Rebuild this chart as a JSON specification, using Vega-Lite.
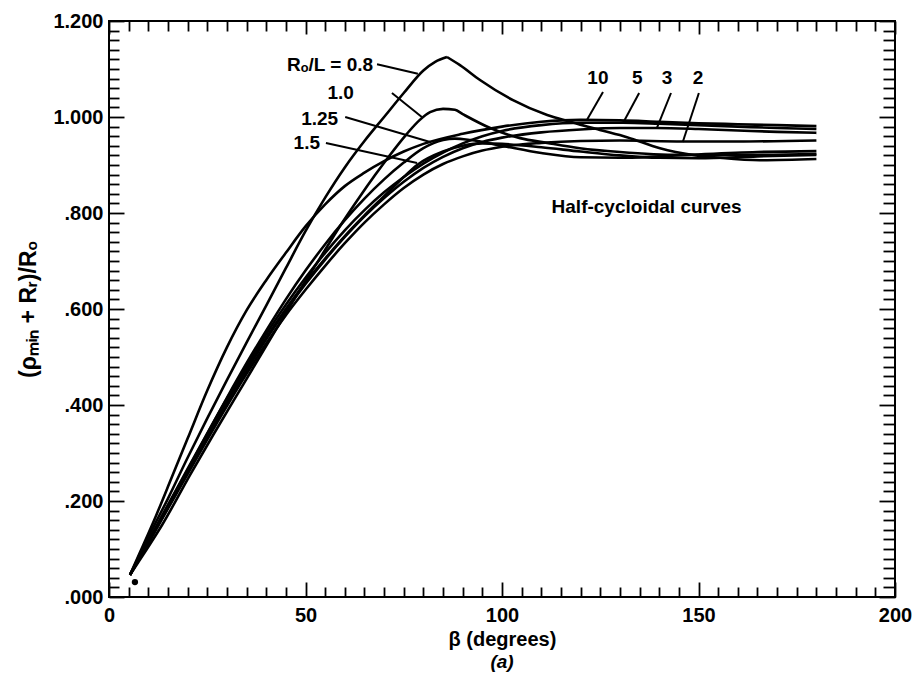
{
  "$schema": "https://vega.github.io/schema/vega-lite/v6.json",
  "width": 786,
  "height": 576,
  "autosize": {"type": "none"},
  "padding": {"left": 109, "top": 21, "right": 21, "bottom": 78},
  "background": "white",
  "config": {"view": {"stroke": "black", "strokeWidth": 2}, "font": "Liberation Sans"},
  "title": {"text": "(a)", "orient": "bottom", "fontStyle": "italic", "fontSize": 19, "font": "Liberation Sans", "fontWeight": "bold", "offset": 4, "color": "black"},
  "datasets": {
    "curves": [
      {"c": "10", "x": 5.34, "y": 0.046}, {"c": "10", "x": 8, "y": 0.095}, {"c": "10", "x": 12, "y": 0.17}, {"c": "10", "x": 16, "y": 0.25}, {"c": "10", "x": 20, "y": 0.33}, {"c": "10", "x": 25, "y": 0.43}, {"c": "10", "x": 30, "y": 0.52}, {"c": "10", "x": 35, "y": 0.597}, {"c": "10", "x": 40, "y": 0.66}, {"c": "10", "x": 45, "y": 0.717}, {"c": "10", "x": 50, "y": 0.772}, {"c": "10", "x": 55, "y": 0.818}, {"c": "10", "x": 60, "y": 0.856}, {"c": "10", "x": 65, "y": 0.884}, {"c": "10", "x": 70, "y": 0.908}, {"c": "10", "x": 75, "y": 0.928}, {"c": "10", "x": 80, "y": 0.944}, {"c": "10", "x": 90, "y": 0.965}, {"c": "10", "x": 100, "y": 0.98}, {"c": "10", "x": 110, "y": 0.99}, {"c": "10", "x": 120, "y": 0.994}, {"c": "10", "x": 130, "y": 0.993}, {"c": "10", "x": 140, "y": 0.99}, {"c": "10", "x": 150, "y": 0.987}, {"c": "10", "x": 160, "y": 0.985}, {"c": "10", "x": 170, "y": 0.983}, {"c": "10", "x": 180, "y": 0.981},
      {"c": "0.8L", "x": 5.34, "y": 0.046}, {"c": "0.8L", "x": 10, "y": 0.125}, {"c": "0.8L", "x": 15, "y": 0.205}, {"c": "0.8L", "x": 20, "y": 0.29}, {"c": "0.8L", "x": 25, "y": 0.372}, {"c": "0.8L", "x": 30, "y": 0.452}, {"c": "0.8L", "x": 35, "y": 0.53}, {"c": "0.8L", "x": 40, "y": 0.607}, {"c": "0.8L", "x": 45, "y": 0.685}, {"c": "0.8L", "x": 50, "y": 0.762}, {"c": "0.8L", "x": 55, "y": 0.832}, {"c": "0.8L", "x": 60, "y": 0.895}, {"c": "0.8L", "x": 65, "y": 0.95}, {"c": "0.8L", "x": 70, "y": 1.0}, {"c": "0.8L", "x": 75, "y": 1.05}, {"c": "0.8L", "x": 80, "y": 1.097}, {"c": "0.8L", "x": 83, "y": 1.115}, {"c": "0.8L", "x": 86, "y": 1.125},
      {"c": "0.8R", "x": 86, "y": 1.125}, {"c": "0.8R", "x": 89.3, "y": 1.108}, {"c": "0.8R", "x": 94.4, "y": 1.077}, {"c": "0.8R", "x": 102.8, "y": 1.035}, {"c": "0.8R", "x": 111.5, "y": 1.004}, {"c": "0.8R", "x": 117.3, "y": 0.99}, {"c": "0.8R", "x": 124.9, "y": 0.973}, {"c": "0.8R", "x": 131.8, "y": 0.958}, {"c": "0.8R", "x": 140.2, "y": 0.935}, {"c": "0.8R", "x": 148.6, "y": 0.921}, {"c": "0.8R", "x": 155.5, "y": 0.915}, {"c": "0.8R", "x": 165.6, "y": 0.91}, {"c": "0.8R", "x": 180, "y": 0.9125},
      {"c": "1.0", "x": 5.34, "y": 0.046}, {"c": "1.0", "x": 8.65, "y": 0.0875}, {"c": "1.0", "x": 13.5, "y": 0.15}, {"c": "1.0", "x": 20.6, "y": 0.254}, {"c": "1.0", "x": 26.5, "y": 0.3375}, {"c": "1.0", "x": 34.1, "y": 0.442}, {"c": "1.0", "x": 42.7, "y": 0.56}, {"c": "1.0", "x": 48.6, "y": 0.64}, {"c": "1.0", "x": 53.7, "y": 0.706}, {"c": "1.0", "x": 58.8, "y": 0.773}, {"c": "1.0", "x": 63.9, "y": 0.835}, {"c": "1.0", "x": 67.7, "y": 0.879}, {"c": "1.0", "x": 71.5, "y": 0.921}, {"c": "1.0", "x": 75.8, "y": 0.965}, {"c": "1.0", "x": 79.1, "y": 0.994}, {"c": "1.0", "x": 81.7, "y": 1.01}, {"c": "1.0", "x": 85, "y": 1.017}, {"c": "1.0", "x": 88, "y": 1.015}, {"c": "1.0", "x": 90, "y": 1.006}, {"c": "1.0", "x": 97, "y": 0.977}, {"c": "1.0", "x": 104.6, "y": 0.956}, {"c": "1.0", "x": 111.5, "y": 0.946}, {"c": "1.0", "x": 119.8, "y": 0.935}, {"c": "1.0", "x": 130, "y": 0.927}, {"c": "1.0", "x": 145.3, "y": 0.921}, {"c": "1.0", "x": 163, "y": 0.921}, {"c": "1.0", "x": 180, "y": 0.923},
      {"c": "1.25", "x": 5.34, "y": 0.046}, {"c": "1.25", "x": 10, "y": 0.115}, {"c": "1.25", "x": 15, "y": 0.19}, {"c": "1.25", "x": 20, "y": 0.265}, {"c": "1.25", "x": 25, "y": 0.34}, {"c": "1.25", "x": 30, "y": 0.415}, {"c": "1.25", "x": 35, "y": 0.487}, {"c": "1.25", "x": 40, "y": 0.555}, {"c": "1.25", "x": 45, "y": 0.62}, {"c": "1.25", "x": 50, "y": 0.68}, {"c": "1.25", "x": 55, "y": 0.735}, {"c": "1.25", "x": 60, "y": 0.785}, {"c": "1.25", "x": 65, "y": 0.83}, {"c": "1.25", "x": 70, "y": 0.87}, {"c": "1.25", "x": 75, "y": 0.905}, {"c": "1.25", "x": 80, "y": 0.935}, {"c": "1.25", "x": 85, "y": 0.952}, {"c": "1.25", "x": 88, "y": 0.955}, {"c": "1.25", "x": 92, "y": 0.952}, {"c": "1.25", "x": 100, "y": 0.94}, {"c": "1.25", "x": 110, "y": 0.925}, {"c": "1.25", "x": 120, "y": 0.916}, {"c": "1.25", "x": 130, "y": 0.915}, {"c": "1.25", "x": 140, "y": 0.918}, {"c": "1.25", "x": 150, "y": 0.922}, {"c": "1.25", "x": 165, "y": 0.927}, {"c": "1.25", "x": 180, "y": 0.929},
      {"c": "1.5", "x": 5.34, "y": 0.046}, {"c": "1.5", "x": 10, "y": 0.113}, {"c": "1.5", "x": 15, "y": 0.186}, {"c": "1.5", "x": 20, "y": 0.26}, {"c": "1.5", "x": 25, "y": 0.333}, {"c": "1.5", "x": 30, "y": 0.405}, {"c": "1.5", "x": 35, "y": 0.475}, {"c": "1.5", "x": 40, "y": 0.54}, {"c": "1.5", "x": 45, "y": 0.6}, {"c": "1.5", "x": 50, "y": 0.655}, {"c": "1.5", "x": 55, "y": 0.705}, {"c": "1.5", "x": 60, "y": 0.752}, {"c": "1.5", "x": 65, "y": 0.795}, {"c": "1.5", "x": 70, "y": 0.835}, {"c": "1.5", "x": 75, "y": 0.875}, {"c": "1.5", "x": 78.4, "y": 0.9}, {"c": "1.5", "x": 85, "y": 0.928}, {"c": "1.5", "x": 90, "y": 0.94}, {"c": "1.5", "x": 95, "y": 0.945}, {"c": "1.5", "x": 100, "y": 0.944}, {"c": "1.5", "x": 110, "y": 0.937}, {"c": "1.5", "x": 120, "y": 0.928}, {"c": "1.5", "x": 130, "y": 0.92}, {"c": "1.5", "x": 140, "y": 0.915}, {"c": "1.5", "x": 150, "y": 0.914}, {"c": "1.5", "x": 165, "y": 0.918}, {"c": "1.5", "x": 180, "y": 0.921},
      {"c": "2", "x": 5.34, "y": 0.046}, {"c": "2", "x": 10, "y": 0.112}, {"c": "2", "x": 15, "y": 0.184}, {"c": "2", "x": 20, "y": 0.256}, {"c": "2", "x": 25, "y": 0.328}, {"c": "2", "x": 30, "y": 0.398}, {"c": "2", "x": 35, "y": 0.465}, {"c": "2", "x": 40, "y": 0.528}, {"c": "2", "x": 45, "y": 0.587}, {"c": "2", "x": 50, "y": 0.64}, {"c": "2", "x": 55, "y": 0.69}, {"c": "2", "x": 60, "y": 0.737}, {"c": "2", "x": 65, "y": 0.78}, {"c": "2", "x": 70, "y": 0.818}, {"c": "2", "x": 75, "y": 0.852}, {"c": "2", "x": 80, "y": 0.88}, {"c": "2", "x": 85, "y": 0.902}, {"c": "2", "x": 90, "y": 0.918}, {"c": "2", "x": 95, "y": 0.93}, {"c": "2", "x": 100, "y": 0.938}, {"c": "2", "x": 110, "y": 0.946}, {"c": "2", "x": 120, "y": 0.95}, {"c": "2", "x": 130, "y": 0.951}, {"c": "2", "x": 146, "y": 0.949}, {"c": "2", "x": 160, "y": 0.949}, {"c": "2", "x": 180, "y": 0.951},
      {"c": "3", "x": 5.34, "y": 0.046}, {"c": "3", "x": 10, "y": 0.114}, {"c": "3", "x": 15, "y": 0.187}, {"c": "3", "x": 20, "y": 0.26}, {"c": "3", "x": 25, "y": 0.333}, {"c": "3", "x": 30, "y": 0.404}, {"c": "3", "x": 35, "y": 0.472}, {"c": "3", "x": 40, "y": 0.537}, {"c": "3", "x": 45, "y": 0.597}, {"c": "3", "x": 50, "y": 0.652}, {"c": "3", "x": 55, "y": 0.703}, {"c": "3", "x": 60, "y": 0.75}, {"c": "3", "x": 65, "y": 0.793}, {"c": "3", "x": 70, "y": 0.831}, {"c": "3", "x": 75, "y": 0.865}, {"c": "3", "x": 80, "y": 0.894}, {"c": "3", "x": 85, "y": 0.917}, {"c": "3", "x": 90, "y": 0.935}, {"c": "3", "x": 95, "y": 0.948}, {"c": "3", "x": 100, "y": 0.957}, {"c": "3", "x": 110, "y": 0.968}, {"c": "3", "x": 120, "y": 0.974}, {"c": "3", "x": 130, "y": 0.977}, {"c": "3", "x": 139.4, "y": 0.977}, {"c": "3", "x": 150, "y": 0.975}, {"c": "3", "x": 160, "y": 0.972}, {"c": "3", "x": 170, "y": 0.969}, {"c": "3", "x": 180, "y": 0.967},
      {"c": "5", "x": 5.34, "y": 0.046}, {"c": "5", "x": 10, "y": 0.117}, {"c": "5", "x": 15, "y": 0.192}, {"c": "5", "x": 20, "y": 0.267}, {"c": "5", "x": 25, "y": 0.341}, {"c": "5", "x": 30, "y": 0.413}, {"c": "5", "x": 35, "y": 0.482}, {"c": "5", "x": 40, "y": 0.548}, {"c": "5", "x": 45, "y": 0.609}, {"c": "5", "x": 50, "y": 0.665}, {"c": "5", "x": 55, "y": 0.717}, {"c": "5", "x": 60, "y": 0.764}, {"c": "5", "x": 65, "y": 0.806}, {"c": "5", "x": 70, "y": 0.843}, {"c": "5", "x": 75, "y": 0.875}, {"c": "5", "x": 80, "y": 0.903}, {"c": "5", "x": 85, "y": 0.926}, {"c": "5", "x": 90, "y": 0.945}, {"c": "5", "x": 95, "y": 0.96}, {"c": "5", "x": 100, "y": 0.971}, {"c": "5", "x": 110, "y": 0.983}, {"c": "5", "x": 120, "y": 0.988}, {"c": "5", "x": 130.8, "y": 0.988}, {"c": "5", "x": 140, "y": 0.986}, {"c": "5", "x": 150, "y": 0.983}, {"c": "5", "x": 160, "y": 0.98}, {"c": "5", "x": 170, "y": 0.977}, {"c": "5", "x": 180, "y": 0.975}
    ],
    "leaders": [
      {"x": 68.2, "y": 1.11, "x2": 78.6, "y2": 1.09},
      {"x": 72.0, "y": 1.05, "x2": 79.6, "y2": 1.0},
      {"x": 60.1, "y": 1.0, "x2": 81.7, "y2": 0.948},
      {"x": 55.2, "y": 0.946, "x2": 78.4, "y2": 0.904},
      {"x": 125.7, "y": 1.052, "x2": 121.6, "y2": 0.994},
      {"x": 134.9, "y": 1.05, "x2": 130.8, "y2": 0.9875},
      {"x": 143.0, "y": 1.05, "x2": 139.4, "y2": 0.977},
      {"x": 150.1, "y": 1.05, "x2": 146.0, "y2": 0.948}
    ],
    "labelsLeft": [
      {"x": 67.2, "y": 1.108, "t": "Rₒ/L = 0.8"},
      {"x": 62.3, "y": 1.05, "t": "1.0"},
      {"x": 58.3, "y": 0.996, "t": "1.25"},
      {"x": 53.7, "y": 0.946, "t": "1.5"}
    ],
    "labelsCenter": [
      {"x": 124.4, "y": 1.081, "t": "10"},
      {"x": 134.4, "y": 1.081, "t": "5"},
      {"x": 142.0, "y": 1.081, "t": "3"},
      {"x": 149.9, "y": 1.081, "t": "2"},
      {"x": 136.8, "y": 0.8125, "t": "Half-cycloidal curves"}
    ],
    "dot": [{"x": 6.6, "y": 0.031}]
  },
  "resolve": {"axis": {"x": "independent", "y": "independent"}},
  "layer": [
    {
      "data": {"name": "curves"},
      "mark": {"type": "line", "interpolate": "monotone", "strokeWidth": 2.6, "color": "black"},
      "encoding": {
        "x": {"field": "x", "type": "quantitative", "scale": {"domain": [0, 200], "nice": false},
          "axis": {"orient": "bottom", "values": [0, 50, 100, 150, 200], "ticks": false, "domain": false, "grid": false, "labelPadding": 8, "labelFont": "Liberation Sans", "labelFontSize": 20, "labelFontWeight": "bold", "labelColor": "black", "labelFlush": false, "title": "β (degrees)", "titleFont": "Liberation Sans", "titleFontSize": 20, "titleFontWeight": "bold", "titleColor": "black", "titlePadding": 4}},
        "y": {"field": "y", "type": "quantitative", "scale": {"domain": [0, 1.2], "nice": false},
          "axis": {"orient": "left", "values": [0, 0.2, 0.4, 0.6, 0.8, 1, 1.2], "ticks": false, "domain": false, "grid": false, "labelPadding": 6, "labelFont": "Liberation Sans", "labelFontSize": 20, "labelFontWeight": "bold", "labelColor": "black", "labelFlush": false,
            "labelExpr": "datum.value >= 1 ? format(datum.value, '.3f') : replace(format(datum.value, '.3f'), '0.', '.')",
            "title": "(ρₘᵢₙ + Rᵣ)/Rₒ", "titleFont": "Liberation Sans", "titleFontSize": 23, "titleFontWeight": "bold", "titleColor": "black", "titlePadding": 12}},
        "detail": {"field": "c"}
      }
    },
    {
      "data": {"name": "labelsLeft"},
      "mark": {"type": "text", "align": "right", "baseline": "middle", "font": "Liberation Sans", "fontSize": 19, "fontWeight": "bold", "color": "black"},
      "encoding": {
        "x": {"field": "x", "type": "quantitative", "scale": {"domain": [0, 200], "nice": false},
          "axis": {"orient": "bottom", "values": [0,5,10,15,20,25,30,35,40,45,50,55,60,65,70,75,80,85,90,95,100,105,110,115,120,125,130,135,140,145,150,155,160,165,170,175,180,185,190,195,200], "labels": false, "domain": false, "grid": false, "title": null, "tickColor": "black", "tickWidth": 1.8,
            "tickSize": {"condition": {"test": "datum.value % 50 === 0", "value": -15}, "value": -10}}},
        "y": {"field": "y", "type": "quantitative", "scale": {"domain": [0, 1.2], "nice": false},
          "axis": {"orient": "left", "values": [0,0.02,0.04,0.06,0.08,0.1,0.12,0.14,0.16,0.18,0.2,0.22,0.24,0.26,0.28,0.3,0.32,0.34,0.36,0.38,0.4,0.42,0.44,0.46,0.48,0.5,0.52,0.54,0.56,0.58,0.6,0.62,0.64,0.66,0.68,0.7,0.72,0.74,0.76,0.78,0.8,0.82,0.84,0.86,0.88,0.9,0.92,0.94,0.96,0.98,1,1.02,1.04,1.06,1.08,1.1,1.12,1.14,1.16,1.18,1.2], "labels": false, "domain": false, "grid": false, "title": null, "tickColor": "black", "tickWidth": 1.8,
            "tickSize": {"condition": {"test": "abs(datum.value * 5 - round(datum.value * 5)) < 0.001", "value": -15}, "value": -10}}},
        "text": {"field": "t"}
      }
    },
    {
      "data": {"name": "leaders"},
      "mark": {"type": "rule", "strokeWidth": 2, "color": "black"},
      "encoding": {
        "x": {"field": "x", "type": "quantitative", "scale": {"domain": [0, 200], "nice": false},
          "axis": {"orient": "top", "values": [0,5,10,15,20,25,30,35,40,45,50,55,60,65,70,75,80,85,90,95,100,105,110,115,120,125,130,135,140,145,150,155,160,165,170,175,180,185,190,195,200], "labels": false, "domain": false, "grid": false, "title": null, "tickColor": "black", "tickWidth": 1.8,
            "tickSize": {"condition": {"test": "datum.value % 50 === 0", "value": -13}, "value": -10}}},
        "y": {"field": "y", "type": "quantitative", "scale": {"domain": [0, 1.2], "nice": false},
          "axis": {"orient": "right", "values": [0,0.02,0.04,0.06,0.08,0.1,0.12,0.14,0.16,0.18,0.2,0.22,0.24,0.26,0.28,0.3,0.32,0.34,0.36,0.38,0.4,0.42,0.44,0.46,0.48,0.5,0.52,0.54,0.56,0.58,0.6,0.62,0.64,0.66,0.68,0.7,0.72,0.74,0.76,0.78,0.8,0.82,0.84,0.86,0.88,0.9,0.92,0.94,0.96,0.98,1,1.02,1.04,1.06,1.08,1.1,1.12,1.14,1.16,1.18,1.2], "labels": false, "domain": false, "grid": false, "title": null, "tickColor": "black", "tickWidth": 1.8,
            "tickSize": {"condition": {"test": "abs(datum.value * 5 - round(datum.value * 5)) < 0.001", "value": -16}, "value": -12}}},
        "x2": {"field": "x2"},
        "y2": {"field": "y2"}
      }
    },
    {
      "data": {"name": "labelsCenter"},
      "mark": {"type": "text", "align": "center", "baseline": "middle", "font": "Liberation Sans", "fontSize": 19, "fontWeight": "bold", "color": "black"},
      "encoding": {
        "x": {"field": "x", "type": "quantitative", "scale": {"domain": [0, 200], "nice": false}, "axis": null},
        "y": {"field": "y", "type": "quantitative", "scale": {"domain": [0, 1.2], "nice": false}, "axis": null},
        "text": {"field": "t"}
      }
    },
    {
      "data": {"name": "dot"},
      "mark": {"type": "point", "filled": true, "size": 40, "color": "black", "opacity": 1},
      "encoding": {
        "x": {"field": "x", "type": "quantitative", "scale": {"domain": [0, 200], "nice": false}, "axis": null},
        "y": {"field": "y", "type": "quantitative", "scale": {"domain": [0, 1.2], "nice": false}, "axis": null}
      }
    }
  ]
}
